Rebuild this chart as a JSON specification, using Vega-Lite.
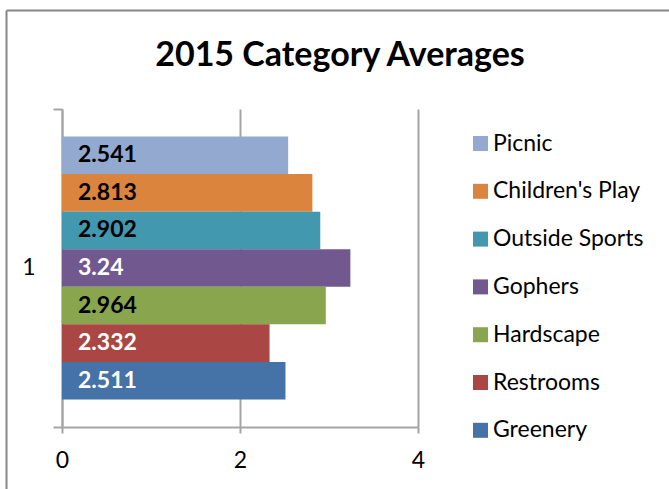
{
  "$schema": "https://vega.github.io/schema/vega-lite/v6.json",
  "width": 356,
  "height": 318,
  "autosize": {"type": "none"},
  "padding": {"left": 62, "top": 109, "right": 251, "bottom": 62},
  "background": "white",
  "config": {"view": {"stroke": null}, "font": "Lato"},
  "title": {
    "text": "2015 Category Averages",
    "font": "Lato",
    "fontSize": 34,
    "fontWeight": "bold",
    "color": "black",
    "anchor": "middle",
    "frame": "group",
    "baseline": "alphabetic",
    "dx": 100,
    "offset": -90
  },
  "data": {
    "values": [
      {"cat": "1", "series": "Picnic", "value": 2.541},
      {"cat": "1", "series": "Children's Play", "value": 2.813},
      {"cat": "1", "series": "Outside Sports", "value": 2.902},
      {"cat": "1", "series": "Gophers", "value": 3.24},
      {"cat": "1", "series": "Hardscape", "value": 2.964},
      {"cat": "1", "series": "Restrooms", "value": 2.332},
      {"cat": "1", "series": "Greenery", "value": 2.511}
    ]
  },
  "layer": [
    {
      "layer": [
        {
          "mark": {"type": "bar"},
          "encoding": {
            "y": {
              "field": "cat",
              "type": "nominal",
              "scale": {"paddingInner": 0, "paddingOuter": 0},
              "axis": {
                "title": null,
                "domainColor": "#a5a5a5",
                "domainWidth": 2,
                "tickColor": "#a5a5a5",
                "tickWidth": 2,
                "tickSize": 9,
                "bandPosition": 1,
                "tickExtra": true,
                "labelFont": "Lato",
                "labelFontSize": 23,
                "labelColor": "black",
                "labelPadding": 18,
                "labelAngle": 0
              }
            },
            "yOffset": {
              "field": "series",
              "type": "nominal",
              "sort": ["Picnic", "Children's Play", "Outside Sports", "Gophers", "Hardscape", "Restrooms", "Greenery"],
              "scale": {"paddingInner": 0, "paddingOuter": 0.732}
            },
            "x": {
              "field": "value",
              "type": "quantitative",
              "scale": {"domain": [0, 4], "nice": false},
              "axis": {
                "title": null,
                "values": [0, 2, 4],
                "format": "d",
                "grid": true,
                "gridColor": "#a5a5a5",
                "gridWidth": 2,
                "domainColor": "#a5a5a5",
                "domainWidth": 2,
                "tickColor": "#a5a5a5",
                "tickWidth": 2,
                "tickSize": 6,
                "labelFont": "Lato",
                "labelFontSize": 23,
                "labelColor": "black",
                "labelPadding": 16,
                "labelFlush": false
              }
            },
            "color": {
              "field": "series",
              "type": "nominal",
              "scale": {
                "domain": ["Picnic", "Children's Play", "Outside Sports", "Gophers", "Hardscape", "Restrooms", "Greenery"],
                "range": ["#93A9CF", "#DB843D", "#4198AF", "#71588F", "#89A54E", "#AA4643", "#4572A7"]
              },
              "legend": {
                "title": null,
                "orient": "none",
                "legendX": 407,
                "legendY": 23,
                "padding": 0,
                "symbolType": "square",
                "symbolSize": 225,
                "symbolStrokeWidth": 0,
                "labelFont": "Lato",
                "labelFontSize": 23,
                "labelColor": "black",
                "labelOffset": 1,
                "rowPadding": 23.8,
                "labelLimit": 300
              }
            }
          }
        },
        {
          "mark": {"type": "text", "align": "left", "baseline": "middle", "dx": 16, "font": "Lato", "fontSize": 23, "fontWeight": "bold"},
          "encoding": {
            "y": {"field": "cat", "type": "nominal"},
            "yOffset": {
              "field": "series",
              "type": "nominal",
              "sort": ["Picnic", "Children's Play", "Outside Sports", "Gophers", "Hardscape", "Restrooms", "Greenery"]
            },
            "x": {"datum": 0, "type": "quantitative"},
            "text": {"field": "value", "type": "nominal"},
            "color": {
              "condition": {"test": "indexof(['Gophers','Restrooms','Greenery'], datum.series) >= 0", "value": "white"},
              "value": "black"
            }
          }
        }
      ]
    },
    {
      "mark": {"type": "point", "opacity": 0},
      "encoding": {
        "x": {
          "datum": 0,
          "type": "quantitative",
          "scale": {"domain": [0, 1], "range": [-56, 607]},
          "axis": {"orient": "top", "offset": 99, "domainColor": "#868686", "domainWidth": 2, "ticks": false, "labels": false, "grid": false, "title": null}
        },
        "y": {
          "datum": 0,
          "type": "quantitative",
          "scale": {"domain": [0, 1], "range": [380, -99]},
          "axis": {"orient": "left", "offset": 56, "domainColor": "#868686", "domainWidth": 2, "ticks": false, "labels": false, "grid": false, "title": null}
        }
      }
    }
  ],
  "resolve": {
    "scale": {"x": "independent", "y": "independent"},
    "axis": {"x": "independent", "y": "independent"}
  }
}
